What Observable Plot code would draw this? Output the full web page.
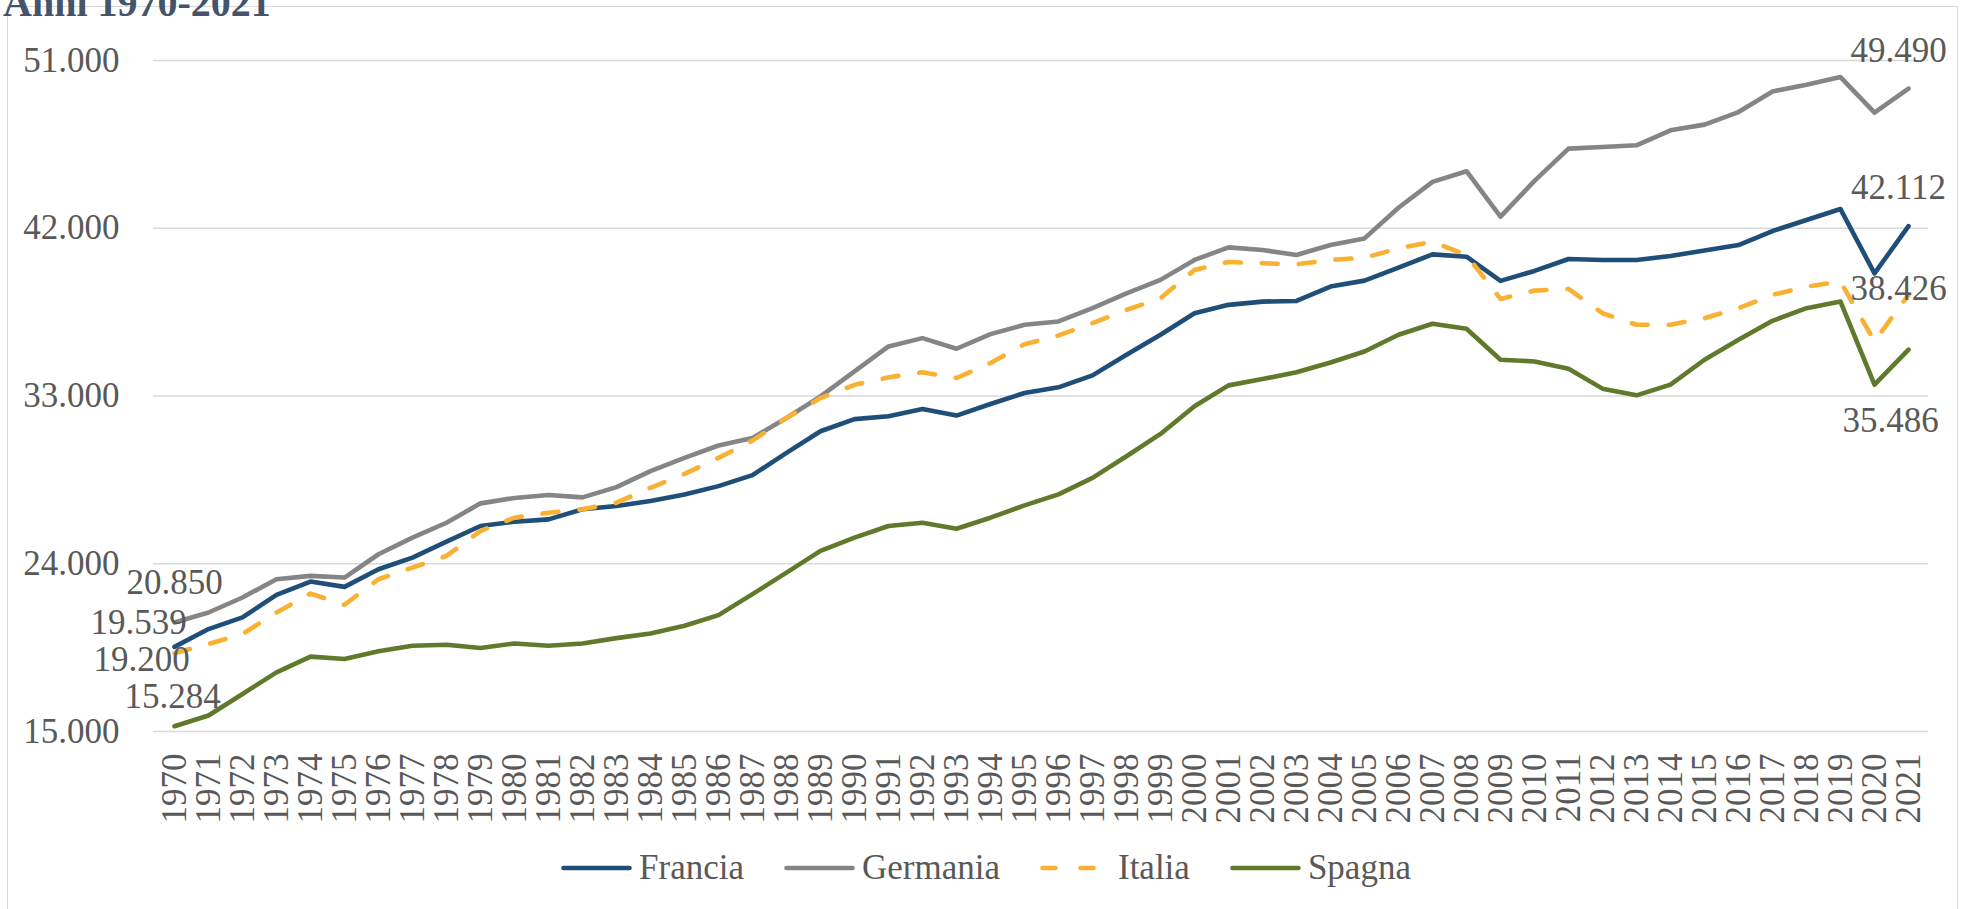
<!DOCTYPE html>
<html>
<head>
<meta charset="utf-8">
<script src="https://cdn.jsdelivr.net/npm/d3@7"></script>
<script src="https://cdn.jsdelivr.net/npm/@observablehq/plot@0.6"></script>
<style>
  html, body { margin: 0; padding: 0; background: #ffffff; }
  body { width: 1966px; height: 909px; overflow: hidden; position: relative; font-family: "Liberation Serif", serif; }
  #frame { position: absolute; left: 7px; top: 6px; width: 1951px; height: 1000px; border: 1.5px solid #D9D9D9; box-sizing: border-box; }
  #chart { position: absolute; left: 0; top: 0; }
  #title { position: absolute; left: 3px; top: -17px; font-size: 40px; line-height: 40px; font-weight: bold; color: #44546A; white-space: nowrap; }
  #legend { position: absolute; left: 0; top: 838px; width: 1966px; height: 60px; display: flex; justify-content: center; align-items: center; font-size: 35px; color: #595959; padding-left: 6px; box-sizing: border-box; font-family: "Liberation Serif", serif; }
  .item { display: flex; align-items: center; margin: 0 20px; }
  .item svg { margin-right: 7px; display: block; }
</style>
</head>
<body>
<div id="frame"></div>
<div id="chart"></div>
<div id="title">Anni 1970-2021</div>
<div id="legend"></div>
<script>
// ---- Data ----
const years = d3.range(1970, 2022);

const seriesNames = ["Francia", "Germania", "Italia", "Spagna"];

const francia = [19539, 20495, 21120, 22330, 23045, 22760, 23705, 24330, 25185, 26025,
  26255, 26380, 26920, 27095, 27365, 27720, 28165, 28755, 29950, 31110,
  31760, 31910, 32305, 31950, 32570, 33160, 33465, 34105, 35215, 36285,
  37440, 37890, 38065, 38100, 38870, 39190, 39890, 40600, 40475, 39175,
  39710, 40350, 40300, 40300, 40510, 40810, 41100, 41850, 42440, 43030,
  39580, 42112];

const germania = [20850, 21385, 22190, 23170, 23350, 23260, 24510, 25400, 26200, 27240,
  27530, 27685, 27560, 28110, 28970, 29680, 30345, 30750, 31820, 32980,
  34320, 35660, 36105, 35535, 36320, 36820, 37000, 37710, 38510, 39230,
  40300, 40975, 40835, 40565, 41100, 41455, 43100, 44490, 45060, 42620,
  44540, 46270, 46360, 46450, 47255, 47560, 48235, 49340, 49700, 50110,
  48200, 49490];

const italia = [19200, 19690, 20230, 21385, 22400, 21800, 23170, 23795, 24420, 25760,
  26470, 26740, 26920, 27275, 28075, 28825, 29680, 30610, 31820, 32890,
  33600, 34000, 34270, 33965, 34765, 35780, 36250, 36905, 37620, 38245,
  39765, 40190, 40120, 40065, 40300, 40420, 40920, 41280, 40565, 38210,
  38655, 38745, 37440, 36820, 36820, 37175, 37710, 38425, 38870, 39140,
  35930, 38426];

const spagna = [15284, 15856, 17015, 18175, 19015, 18890, 19300, 19600, 19655, 19480,
  19725, 19600, 19725, 20010, 20260, 20675, 21245, 22370, 23525, 24690,
  25400, 26025, 26200, 25880, 26470, 27130, 27720, 28610, 29770, 30965,
  32450, 33570, 33910, 34270, 34800, 35390, 36285, 36875, 36605, 34945,
  34855, 34465, 33395, 33035, 33610, 34945, 36015, 37035, 37710, 38065,
  33610, 35486];

const yTicks = [15000, 24000, 33000, 42000, 51000];

// ---- Styles ----
const colors = { Francia: "#1F4E79", Germania: "#858585", Italia: "#F8B133", Spagna: "#607A2C" };
const dash = { Italia: "16,21" };
const textColor = "#595959";
const font = "Liberation Serif";

const values = { Francia: francia, Germania: germania, Italia: italia, Spagna: spagna };
const rows = seriesNames.flatMap(name => years.map((year, i) => ({ name, year, value: values[name][i] })));

const fmt = d3.formatLocale({ decimal: ",", thousands: ".", grouping: [3], currency: ["€", ""] }).format(",.0f");

// label placement (style offsets) per series at start / end
const startOffsets = {
  Germania: { dx: 0, dy: -28 },
  Francia: { dx: -36, dy: -13 },
  Italia: { dx: -33, dy: 18 },
  Spagna: { dx: -2, dy: -18 }
};
const endOffsets = {
  Germania: { dx: -10, dy: -27 },
  Francia: { dx: -10, dy: -27 },
  Italia: { dx: -10, dy: 5 },
  Spagna: { dx: -18, dy: 82 }
};

const labelMarks = seriesNames.flatMap(name => {
  const v = values[name];
  const first = { year: years[0], value: v[0] };
  const last = { year: years[years.length - 1], value: v[v.length - 1] };
  return [
    Plot.text([first], { x: "year", y: "value", text: d => fmt(d.value), textAnchor: "middle", lineAnchor: "bottom",
      dx: startOffsets[name].dx, dy: startOffsets[name].dy, fontSize: 35, fill: textColor }),
    Plot.text([last], { x: "year", y: "value", text: d => fmt(d.value), textAnchor: "middle", lineAnchor: "bottom",
      dx: endOffsets[name].dx, dy: endOffsets[name].dy, fontSize: 35, fill: textColor })
  ];
});

const lineMarks = seriesNames.map(name =>
  Plot.line(rows.filter(d => d.name === name), {
    x: "year", y: "value", stroke: colors[name], strokeWidth: 4.6,
    strokeDasharray: dash[name] || null, strokeLinecap: "round", strokeLinejoin: "round"
  })
);

const chart = Plot.plot({
  width: 1966,
  height: 835,
  marginLeft: 153,
  marginRight: 38,
  marginTop: 60,
  marginBottom: 104,
  style: { fontFamily: font, background: "transparent", color: textColor, overflow: "visible" },
  x: { type: "point", domain: years, padding: 0.5, label: null },
  y: { domain: [15000, 51000], label: null },
  marks: [
    Plot.gridY(yTicks, { stroke: "#D9D9D9", strokeOpacity: 1, strokeWidth: 1.5 }),
    Plot.axisY(yTicks, { tickSize: 0, tickPadding: 34, tickFormat: fmt, fontSize: 35, fill: textColor, label: null }),
    Plot.axisX(years, { tickSize: 0, tickPadding: 22, tickRotate: -90, textAnchor: "end", lineAnchor: "middle",
      fontSize: 35, fill: textColor, label: null, tickFormat: d => String(d) }),
    ...lineMarks,
    ...labelMarks
  ]
});
document.getElementById("chart").appendChild(chart);

// ---- Legend ----
const legend = document.getElementById("legend");
seriesNames.forEach(name => {
  const item = document.createElement("div");
  item.className = "item";
  const ns = "http://www.w3.org/2000/svg";
  const svg = document.createElementNS(ns, "svg");
  svg.setAttribute("width", 71);
  svg.setAttribute("height", 12);
  const line = document.createElementNS(ns, "line");
  line.setAttribute("x1", 2.5); line.setAttribute("x2", 68.5);
  line.setAttribute("y1", 6); line.setAttribute("y2", 6);
  line.setAttribute("stroke", colors[name]);
  line.setAttribute("stroke-width", 4.6);
  line.setAttribute("stroke-linecap", "round");
  if (dash[name]) {
    line.setAttribute("stroke-dasharray", "13,25");
    line.setAttribute("x2", 58);
  }
  svg.appendChild(line);
  const label = document.createElement("span");
  label.textContent = name;
  item.appendChild(svg);
  item.appendChild(label);
  legend.appendChild(item);
});
</script>
</body>
</html>
